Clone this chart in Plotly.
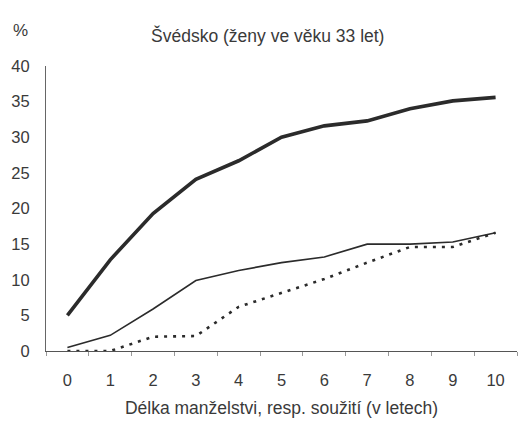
import plotly.graph_objects as go

# Délka manželství / soužití v letech
years = ["0", "1", "2", "3", "4", "5", "6", "7", "8", "9", "10"]

# Podíl rozpadlých svazků (%)
thick_series = [5.0, 12.8, 19.3, 24.1, 26.7, 30.0, 31.6, 32.3, 34.0, 35.1, 35.6]
thin_series = [0.5, 2.2, 5.9, 9.9, 11.3, 12.4, 13.2, 15.0, 15.0, 15.3, 16.6]
dotted_series = [0.0, 0.0, 2.0, 2.1, 6.2, 8.2, 10.1, 12.4, 14.6, 14.6, 16.6]

y_ticks = [0, 5, 10, 15, 20, 25, 30, 35, 40]

font_family = "Liberation Sans, Arial, sans-serif"
text_color = "#3a3a3a"

fig = go.Figure()
fig.add_trace(go.Scatter(x=years, y=thick_series, mode="lines",
                         line=dict(color="#2b2b2b", width=3.6)))
fig.add_trace(go.Scatter(x=years, y=thin_series, mode="lines",
                         line=dict(color="#2b2b2b", width=1.6)))
fig.add_trace(go.Scatter(x=years, y=dotted_series, mode="lines",
                         line=dict(color="#2b2b2b", width=2.6, dash="3px,6px")))

fig.update_layout(
    width=531, height=422,
    margin=dict(l=46, r=14, t=66, b=71),
    paper_bgcolor="white", plot_bgcolor="white",
    showlegend=False,
    font=dict(family=font_family, size=16, color=text_color),
    xaxis=dict(
        type="category", tickson="boundaries", range=[-0.5, 10.5],
        automargin=False,
        showgrid=False, zeroline=False,
        showline=True, linecolor="#555", linewidth=1,
        ticks="outside", ticklen=4, tickcolor="#999",
        ticklabelstandoff=14,
        tickfont=dict(size=16.5, color=text_color),
        title=dict(text="Délka manželstvi, resp. soužití (v letech)",
                   font=dict(size=17.5, color=text_color), standoff=13),
    ),
    yaxis=dict(
        range=[0, 40], tickvals=y_ticks,
        automargin=False,
        showgrid=False, zeroline=False,
        showline=True, linecolor="#666", linewidth=1,
        ticks="", ticklabelstandoff=12,
        tickfont=dict(size=16.5, color=text_color),
    ),
    annotations=[
        dict(text="Švédsko (ženy ve věku 33 let)", xref="paper", yref="paper",
             x=0.47, y=1.0, yshift=31, xanchor="center", yanchor="middle",
             showarrow=False, font=dict(size=17.5, color=text_color)),
        dict(text="%", xref="paper", yref="paper",
             x=0, xshift=-35, y=1.0, yshift=36, xanchor="left", yanchor="middle",
             showarrow=False, font=dict(size=17, color=text_color)),
    ],
)

fig.write_html("out.html")
